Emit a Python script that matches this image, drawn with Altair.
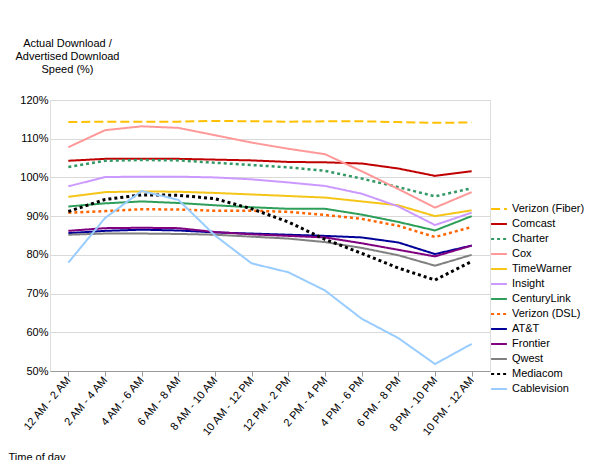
import altair as alt
import pandas as pd

periods = ["12 AM - 2 AM", "2 AM - 4 AM", "4 AM - 6 AM", "6 AM - 8 AM", "8 AM - 10 AM",
           "10 AM - 12 PM", "12 PM - 2 PM", "2 PM - 4 PM", "4 PM - 6 PM", "6 PM - 8 PM",
           "8 PM - 10 PM", "10 PM - 12 AM"]

providers = ["Verizon (Fiber)", "Comcast", "Charter", "Cox", "TimeWarner", "Insight",
             "CenturyLink", "Verizon (DSL)", "AT&T", "Frontier", "Qwest", "Mediacom", "Cablevision"]

verizon_fiber = [114.3, 114.4, 114.4, 114.4, 114.6, 114.5, 114.4, 114.5, 114.5, 114.3, 114.1, 114.2]
comcast = [104.3, 104.8, 104.8, 104.8, 104.6, 104.4, 104.0, 103.9, 103.6, 102.3, 100.4, 101.6]
charter = [102.7, 104.3, 104.5, 104.4, 103.8, 103.2, 102.6, 101.7, 99.7, 97.5, 95.1, 97.2]
cox = [107.8, 112.2, 113.2, 112.8, 110.9, 109.0, 107.4, 106.0, 101.6, 97.0, 92.2, 96.2]
timewarner = [95.0, 96.2, 96.4, 96.3, 96.0, 95.6, 95.2, 94.8, 93.8, 92.8, 90.0, 91.5]
insight = [97.7, 100.1, 100.2, 100.2, 100.0, 99.5, 98.7, 97.8, 95.8, 92.5, 87.7, 90.9]
centurylink = [92.5, 93.3, 93.8, 93.4, 92.8, 92.3, 91.9, 91.9, 90.4, 88.5, 86.3, 90.0]
verizon_dsl = [90.9, 91.3, 91.8, 91.7, 91.4, 91.4, 91.1, 90.3, 89.3, 87.5, 84.6, 87.2]
att = [85.6, 86.2, 86.5, 86.3, 85.8, 85.5, 85.2, 84.9, 84.5, 83.2, 80.2, 82.4]
frontier = [86.2, 86.9, 87.0, 86.9, 85.9, 85.3, 84.9, 84.5, 83.0, 81.3, 79.6, 82.4]
qwest = [85.2, 85.5, 85.5, 85.4, 85.2, 84.7, 84.2, 83.3, 81.8, 79.9, 77.2, 80.0]
mediacom = [91.2, 94.3, 95.5, 95.4, 94.5, 91.9, 88.5, 84.0, 80.4, 76.6, 73.5, 78.3]
cablevision = [78.0, 89.5, 96.5, 94.2, 85.0, 77.8, 75.5, 70.8, 63.5, 58.5, 51.8, 57.0]

series = [verizon_fiber, comcast, charter, cox, timewarner, insight, centurylink,
          verizon_dsl, att, frontier, qwest, mediacom, cablevision]

colors = ["#FFC000", "#C00000", "#339966", "#FF9999", "#F5C518", "#CC99FF", "#2E9E5B",
          "#FF6600", "#000099", "#800080", "#808080", "#000000", "#99CCFF"]
dashes = [[9, 4], [1, 0], [3, 3], [1, 0], [1, 0], [1, 0], [1, 0],
          [3, 3], [1, 0], [1, 0], [1, 0], [3, 3], [1, 0]]
widths = [2, 2, 2.5, 2, 2, 2, 2, 2.5, 2, 2, 2, 3, 2]

rows = []
for p, vals, w in zip(providers, series, widths):
    for t, v in zip(periods, vals):
        rows.append({"provider": p, "period": t, "value": v, "w": w})
df = pd.DataFrame(rows)

legend = alt.Legend(title=None, orient="none", legendX=440, legendY=100, symbolType="stroke",
                    symbolSize=250, symbolStrokeWidth=2, labelFontSize=11, rowPadding=1,
                    labelColor="#000", labelFont="Liberation Sans", labelLimit=200)

chart = (
    alt.Chart(df)
    .mark_line()
    .encode(
        x=alt.X("period:N", sort=periods, scale=alt.Scale(paddingOuter=0.2),
                axis=alt.Axis(title="Time of day", labelAngle=-50, labelFontSize=11,
                              labelColor="#000", titleX=-42, titleY=80, titleAlign="left",
                              titleFontWeight="normal", titleFontSize=11, grid=False,
                              domainColor="#999", tickColor="#999")),
        y=alt.Y("value:Q", scale=alt.Scale(domain=[50, 120]),
                axis=alt.Axis(values=list(range(50, 121, 10)), labelExpr="datum.value + '%'",
                              title=["Actual Download /", "Advertised Download", "Speed (%)"],
                              titleAngle=0, titleX=17, titleY=-52, titleAlign="center",
                              titleFontWeight="normal", titleFontSize=11, labelFontSize=11,
                              labelColor="#000", gridColor="#d9d9d9", domain=False, ticks=False)),
        color=alt.Color("provider:N", sort=providers,
                        scale=alt.Scale(domain=providers, range=colors), legend=legend),
        strokeDash=alt.StrokeDash("provider:N", sort=providers,
                                  scale=alt.Scale(domain=providers, range=dashes), legend=legend),
        strokeWidth=alt.StrokeWidth("w:Q", scale=None, legend=None),
        detail="provider:N",
    )
    .properties(
        width=440, height=271,
        title=alt.TitleParams(
            ["Chart 11: Average sustained download speeds as a percentage of advertised over a 24-hour",
             "period, by provider"],
            anchor="start", frame="group", dx=-42, offset=66, fontSize=12.5, color="#1F3864",
            font="Liberation Sans", fontWeight="bold", baseline="top", dy=-10),
        autosize="none",
        padding={"left": 42, "top": 92, "right": 102, "bottom": 89},
    )
    .configure_view(stroke=None)
    .configure(font="Liberation Sans")
)

chart.save("out.html", embed_options={"renderer": "svg", "actions": False})
